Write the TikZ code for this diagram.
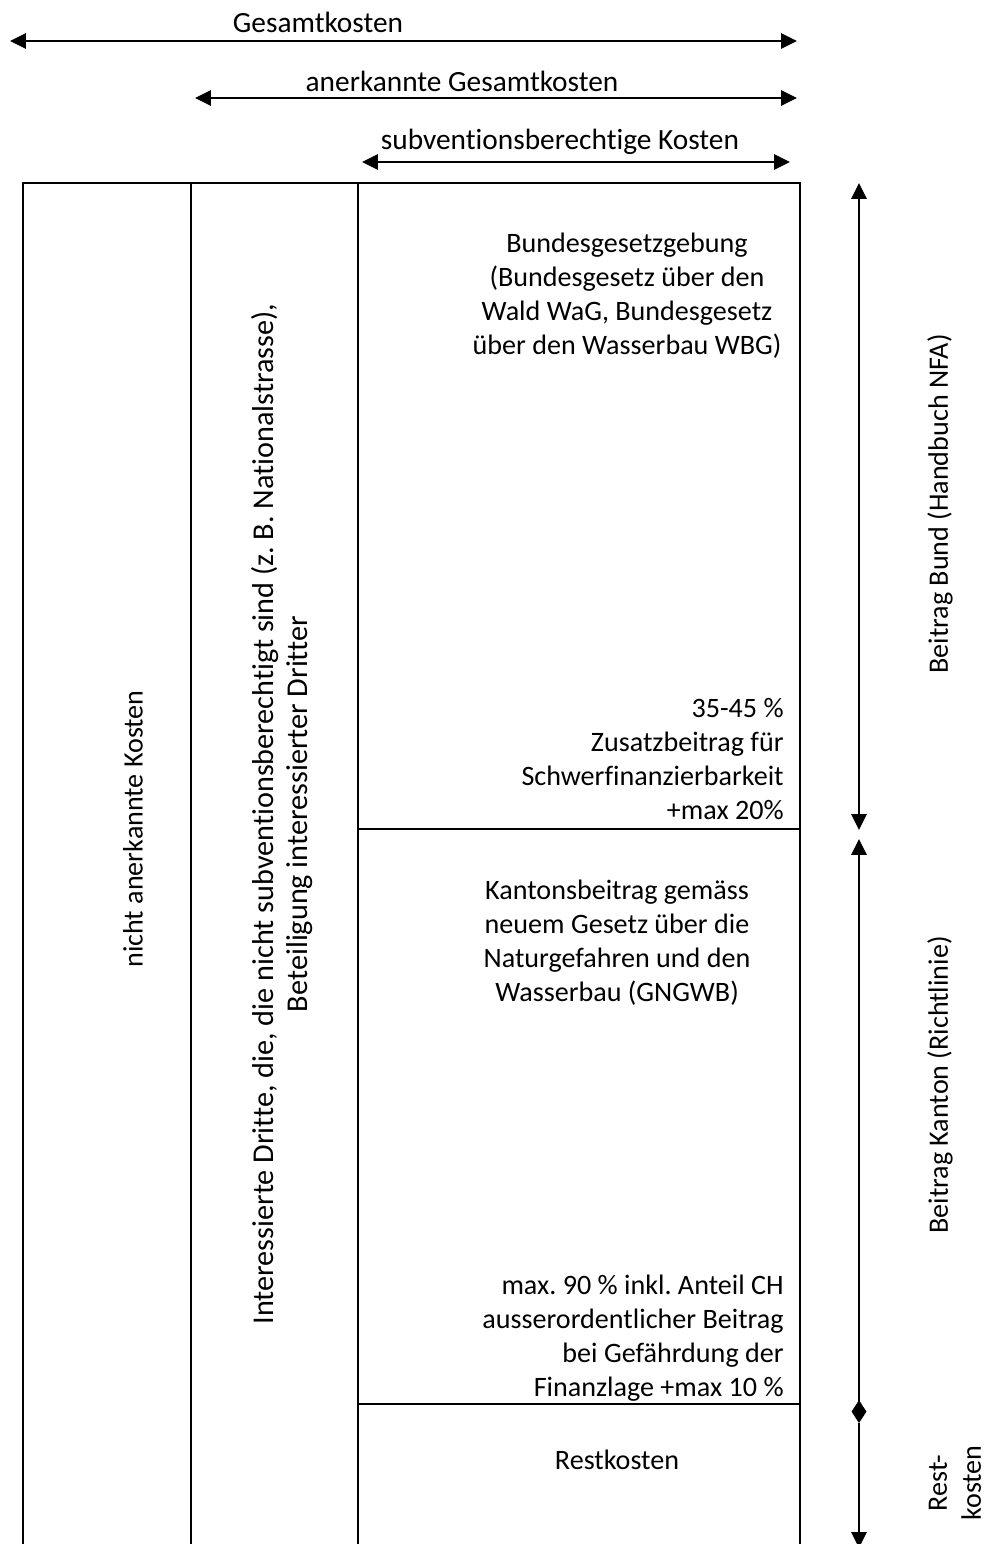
\documentclass[tikz,border=0pt]{standalone}
\usepackage{fontspec}
\setmainfont{Carlito}[Ligatures={NoCommon}]
\usetikzlibrary{arrows.meta, positioning}

\begin{document}
\frenchspacing
\begin{tikzpicture}[
  x=0.02cm, y=-0.02cm,
  txt/.style={font=\fontsize{16}{19.4}\selectfont, inner sep=0pt},
  bigtxt/.style={font=\fontsize{16.7}{19.4}\selectfont, inner sep=0pt},
  frame/.style={line width=1.6pt},
  span/.style={line width=1.6pt, {Triangle[length=9pt,width=8.5pt]}-{Triangle[length=9pt,width=8.5pt]}},
  spanjoin/.style={line width=1.6pt, {Triangle[length=9pt,width=8.5pt]}-{Diamond[length=13pt,width=8.5pt]}},
  spanend/.style={line width=1.6pt, -{Triangle[length=9pt,width=8.5pt]}},
]
  \useasboundingbox (0,0) rectangle (989,1544);

  % Kostenarten oben
  \coordinate (gesL) at (10,41);   \coordinate (gesR) at (797,41);
  \coordinate (anerL) at (195,98); \coordinate (anerR) at (797,98);
  \coordinate (subvL) at (362,162); \coordinate (subvR) at (790,162);
  \draw[span] (gesL) -- (gesR);
  \draw[span] (anerL) -- (anerR);
  \draw[span] (subvL) -- (subvR);
  \node[bigtxt] (gesLabel) at (318,22) {Gesamtkosten};
  \node[bigtxt] (anerLabel) at (462,81) {anerkannte Gesamtkosten};
  \node[bigtxt] (subvLabel) at (560,142) {subventionsberechtige Kosten};

  % Tabelle
  \coordinate (colA) at (23,183);  \coordinate (colB) at (191,183);
  \coordinate (colC) at (358,183); \coordinate (colD) at (800,183);
  \draw[frame] (23,1550) -- (colA) -- (colD) -- (800,1550);
  \draw[frame] (colB) -- (191,1550);
  \draw[frame] (colC) -- (358,1550);
  \coordinate (sepBund) at (358,829);
  \coordinate (sepRest) at (358,1404);
  \draw[frame] (sepBund) -- (800,829);
  \draw[frame] (sepRest) -- (800,1404);

  \node[txt, rotate=90] (nichtAner) at (133,829) {nicht anerkannte Kosten};
  \node[bigtxt, rotate=90, align=center, font=\fontsize{17.2}{34pt}\selectfont] (dritte) at (282,814)
    {Interessierte Dritte, die, die nicht subventionsberechtigt sind (z. B. Nationalstrasse),\\[-15pt]
     Beteiligung interessierter Dritter};

  \node[txt, align=center] (bundG) at (627,296)
    {Bundesgesetzgebung\\(Bundesgesetz über den\\Wald WaG, Bundesgesetz\\über den Wasserbau WBG)};
  \node[txt, align=right, anchor=east] (bundP) at (784,759)
    {35-45 \%\\Zusatzbeitrag für\\Schwerfinanzierbarkeit\\+max 20\%};
  \node[txt, align=center] (kantG) at (617,943)
    {Kantonsbeitrag gemäss\\neuem Gesetz über die\\Naturgefahren und den\\Wasserbau (GNGWB)};
  \node[txt, align=right, anchor=east] (kantP) at (784,1338)
    {max. 90 \% inkl. Anteil CH\\ausserordentlicher Beitrag\\bei Gefährdung der\\Finanzlage +max 10 \%};
  \node[txt] (rest) at (617,1460) {Restkosten};

  % Beiträge rechts
  \coordinate (bundTop) at (859,183);  \coordinate (bundBot) at (859,830);
  \coordinate (kantTop) at (859,839);  \coordinate (kantBot) at (859,1423);
  \coordinate (restBot) at (859,1548);
  \draw[span] (bundTop) -- (bundBot);
  \draw[spanjoin] (kantTop) -- (kantBot);
  \draw[spanend] (kantBot) -- (restBot);
  \node[txt, rotate=90] (bundLabel) at (940,504) {Beitrag Bund (Handbuch NFA)};
  \node[txt, rotate=90] (kantLabel) at (940,1085) {Beitrag Kanton (Richtlinie)};
  \node[txt, rotate=90, align=center] (restLabel) at (955,1483) {Rest-\\kosten};
\end{tikzpicture}
\end{document}
